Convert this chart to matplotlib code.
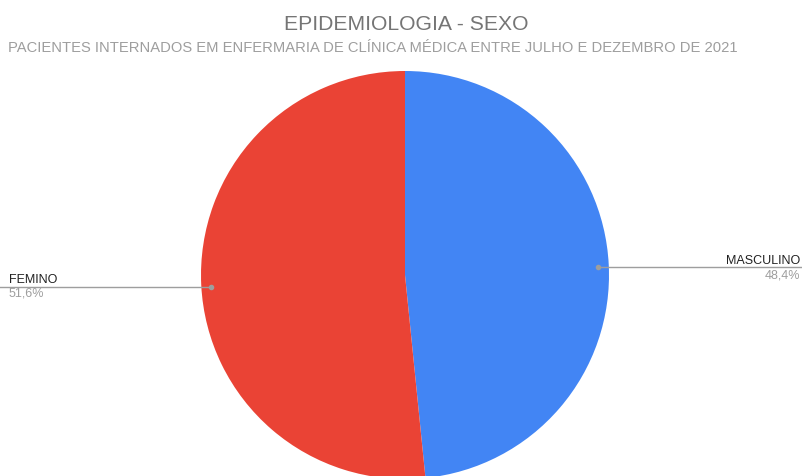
import matplotlib
matplotlib.use("Agg")
import matplotlib.pyplot as plt

# ----------------------------
# DATA
# ----------------------------
labels = ["MASCULINO", "FEMINO"]
values = [48.4, 51.6]
colors = ["#4285f4", "#ea4335"]
pct_text = ["48,4%", "51,6%"]

title = "EPIDEMIOLOGIA - SEXO"
subtitle = "PACIENTES INTERNADOS EM ENFERMARIA DE CLÍNICA MÉDICA ENTRE JULHO E DEZEMBRO DE 2021"

W, H = 802, 476
plt.rcParams['font.family'] = ['Liberation Sans', 'DejaVu Sans']

fig = plt.figure(figsize=(W / 100, H / 100), dpi=100)
fig.patch.set_facecolor("white")

# pie centre (405, 275) px, radius 204 px
cx, cy, r = 405, 275, 204
ax = fig.add_axes([(cx - r) / W, 1 - (cy + r) / H, 2 * r / W, 2 * r / H])
ax.pie(values, colors=colors, startangle=90, counterclock=False,
       radius=1.0, wedgeprops=dict(linewidth=0))
ax.set_xlim(-1, 1)
ax.set_ylim(-1, 1)
ax.set_aspect("auto")
ax.axis("off")

# title / subtitle
fig.text(406 / W, 1 - 30 / H, title, ha="center", va="baseline",
         fontsize=15.2, color="#757575")
fig.text(8 / W, 1 - 52.5 / H, subtitle, ha="left", va="baseline",
         fontsize=10.63, color="#9e9e9e")

# leader lines + labels
def px(x, y):
    return x / W, 1 - y / H

# MASCULINO (right side)
line_y = 267
fig.add_artist(plt.Line2D([598 / W, 1.0], [1 - line_y / H] * 2,
                          color="#9e9e9e", lw=1.0))
fig.add_artist(plt.Line2D([598 / W], [1 - line_y / H], marker="o", ms=3,
                          color="#9e9e9e", lw=0))
fig.text(*px(800, 264), labels[0], ha="right", va="baseline",
         fontsize=9, color="#222222")
fig.text(*px(800, 278), pct_text[0], ha="right", va="baseline",
         fontsize=9, color="#9e9e9e")

# FEMINO (left side)
line_y = 286.5
fig.add_artist(plt.Line2D([0.0, 211 / W], [1 - line_y / H] * 2,
                          color="#9e9e9e", lw=1.0))
fig.add_artist(plt.Line2D([211 / W], [1 - line_y / H], marker="o", ms=3,
                          color="#9e9e9e", lw=0))
fig.text(*px(9, 283), labels[1], ha="left", va="baseline",
         fontsize=9, color="#222222")
fig.text(*px(9, 297), pct_text[1], ha="left", va="baseline",
         fontsize=9, color="#9e9e9e")

fig.savefig("out.png", dpi=100, facecolor="white")
